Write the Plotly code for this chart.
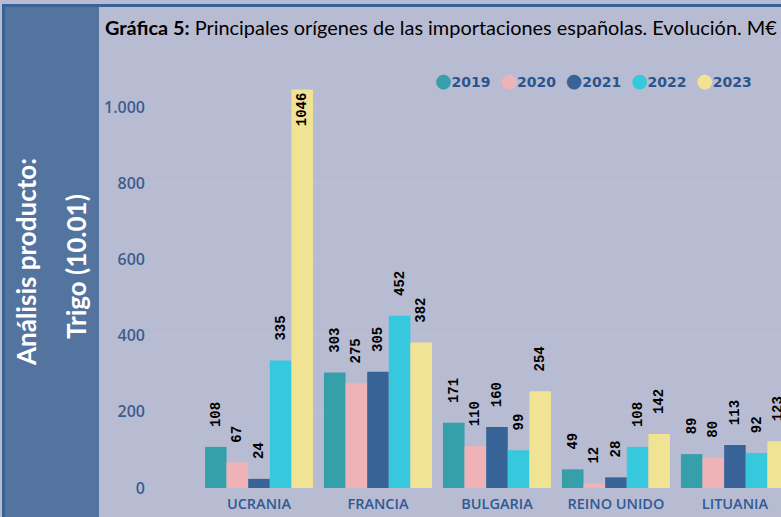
import plotly.graph_objects as go

countries = ["UCRANIA", "FRANCIA", "BULGARIA", "REINO UNIDO", "LITUANIA"]
years = ["2019", "2020", "2021", "2022", "2023"]
v2019 = [108, 303, 171, 49, 89]
v2020 = [67, 275, 110, 12, 80]
v2021 = [24, 305, 160, 28, 113]
v2022 = [335, 452, 99, 108, 92]
v2023 = [1046, 382, 254, 142, 123]
series = [v2019, v2020, v2021, v2022, v2023]
colors = ["#35a0aa", "#efb3b7", "#386396", "#36c8dc", "#f0e394"]

BG = "#b8bcd2"
SIDE = "#5474a0"
BORDER = "#3a6296"

# page geometry (px) -> paper coords
L, R, T, B = 150, 0, 69, 29
FW, FH = 781, 517
W, H = FW - L - R, FH - T - B


def px(x):
    return (x - L) / W


def py(y):
    return (FH - B - y) / H


fig = go.Figure()
for yr, vals, col in zip(years, series, colors):
    fig.add_trace(go.Bar(
        x=countries, y=vals, name=yr,
        marker=dict(color=col, line=dict(width=0)),
        text=["\u00a0\u00a0" + str(v) for v in vals],
        textposition=["inside" if v > 1000 else "outside" for v in vals],
        insidetextanchor="end",
        textangle=-90,
        constraintext="none",
        cliponaxis=False,
        textfont=dict(family="Liberation Mono", size=14, color="black", weight="bold"),
        showlegend=False,
    ))

# legend drawn as one line of text
legend_txt = " \u00a0".join(
    f"<span style='color:{c};font-size:19px'>●</span>{y}" for y, c in zip(years, colors)
)

fig.update_layout(
    width=FW, height=FH,
    margin=dict(l=L, r=R, t=T, b=B, pad=0),
    paper_bgcolor=BG, plot_bgcolor=BG,
    barmode="group", bargap=0.092, bargroupgap=0,
    separators=",.",
    xaxis=dict(type="category", range=[-0.916, 4.387], showgrid=False, showline=False,
               ticks="", ticklabelstandoff=5,
               tickfont=dict(family="Open Sans", size=14.5, color="#2f5a94", weight=600)),
    yaxis=dict(range=[0, 1100], dtick=200, tickformat=",d", showline=False, zeroline=False,
               gridcolor="#bcc0d6", gridwidth=1, ticks="", ticklabelstandoff=4,
               tickfont=dict(family="Open Sans", size=16, color="#3d5d8f", weight=600)),
    shapes=[
        dict(type="rect", xref="paper", yref="paper", x0=px(5), x1=px(99), y0=py(FH + 5), y1=py(7),
             fillcolor=SIDE, line=dict(width=0), layer="below"),
        dict(type="rect", xref="paper", yref="paper", x0=px(2), x1=px(5), y0=py(FH + 5), y1=py(4),
             fillcolor=BORDER, line=dict(width=0), layer="below"),
        dict(type="rect", xref="paper", yref="paper", x0=px(2), x1=px(FW + 5), y0=py(7), y1=py(4),
             fillcolor=BORDER, line=dict(width=0), layer="below"),
    ],
    annotations=[
        dict(text="<b>Gráfica 5:</b> Principales orígenes de las importaciones españolas. Evolución. M€",
             xref="paper", yref="paper", x=px(103), y=py(27), xanchor="left", yanchor="middle",
             showarrow=False, font=dict(family="Lato", size=19.9, color="black")),
        dict(text="<b>Análisis producto:</b>", textangle=-90,
             xref="paper", yref="paper", x=px(26), y=py(262), xanchor="center", yanchor="middle",
             showarrow=False, font=dict(family="Lato", size=26, color="white")),
        dict(text="<b>Trigo (10.01)</b>", textangle=-90,
             xref="paper", yref="paper", x=px(76), y=py(267), xanchor="center", yanchor="middle",
             showarrow=False, font=dict(family="Lato", size=26, color="white")),
        dict(text="<b>" + legend_txt + "</b>",
             xref="paper", yref="paper", x=px(593), y=py(80), xanchor="center", yanchor="middle",
             showarrow=False, font=dict(family="DejaVu Sans", size=14, color="#2a5590")),
    ],
)

fig.write_html("out.html", config={"displayModeBar": False},
               post_script="document.body.style.margin='0';document.body.style.overflow='hidden';")
